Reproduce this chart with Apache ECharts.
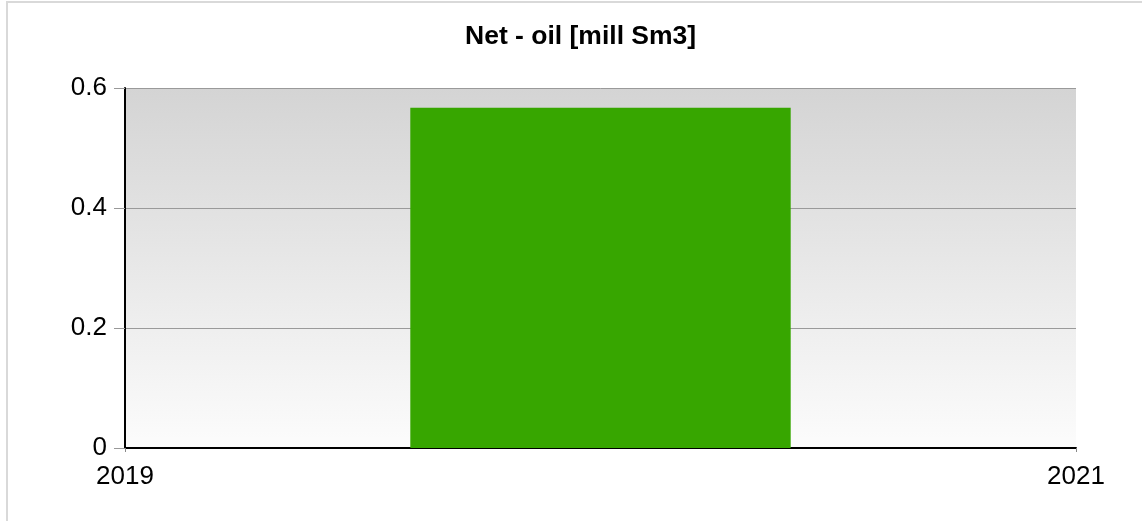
<!DOCTYPE html>
<html>
<head>
<meta charset="utf-8">
<script src="https://cdn.jsdelivr.net/npm/echarts@6/dist/echarts.min.js"></script>
<style>
  html, body { margin: 0; padding: 0; background: #fff; }
  #chart { width: 1142px; height: 521px; }
</style>
</head>
<body>
<div id="chart"></div>
<script>
// data
const years = [2020]
const netOil = [0.567]
const xTicks = [2019, 2021]
const yTicks = [0, 0.2, 0.4, 0.6]

const halfBar = 0.4 // bar half width in years

const chart = echarts.init(document.getElementById('chart'))

const option = {
  animation: false,
  title: {
    text: 'Net - oil [mill Sm3]',
    left: 460,
    top: 18,
    textStyle: {
      fontFamily: 'Liberation Sans',
      fontSize: 26.5,
      fontWeight: 'bold',
      color: '#000'
    }
  },
  graphic: [
    {
      type: 'polyline',
      shape: { points: [[7, 521], [7, 2], [1142, 2]] },
      style: { stroke: '#d9d9d9', lineWidth: 2, fill: null }
    }
  ],
  grid: {
    left: 125,
    right: 66,
    top: 88,
    bottom: 73,
    show: true,
    borderWidth: 0,
    backgroundColor: {
      type: 'linear', x: 0, y: 0, x2: 0, y2: 1,
      colorStops: [
        { offset: 0, color: '#d4d4d4' },
        { offset: 1, color: '#fcfcfc' }
      ]
    }
  },
  xAxis: {
    type: 'value',
    min: xTicks[0],
    max: xTicks[xTicks.length - 1],
    interval: xTicks[1] - xTicks[0],
    axisLine: { lineStyle: { color: '#000', width: 2 } },
    axisTick: { length: 4, lineStyle: { color: '#888' } },
    splitLine: { show: false },
    axisLabel: {
      margin: 16,
      color: '#000',
      fontFamily: 'Liberation Sans',
      fontSize: 26,
      formatter: v => String(v)
    }
  },
  yAxis: {
    type: 'value',
    min: yTicks[0],
    max: yTicks[yTicks.length - 1],
    interval: yTicks[1] - yTicks[0],
    axisLine: { show: true, lineStyle: { color: '#000', width: 2 } },
    axisTick: { show: true, length: 11, lineStyle: { color: '#999' } },
    splitLine: { lineStyle: { color: '#9a9a9a', width: 1 } },
    axisLabel: {
      margin: 18,
      color: '#000',
      fontFamily: 'Liberation Sans',
      fontSize: 26
    }
  },
  series: [
    {
      type: 'custom',
      data: years.map((y, i) => [y, netOil[i]]),
      renderItem: (params, api) => {
        const p0 = api.coord([api.value(0) - halfBar, api.value(1)])
        const p1 = api.coord([api.value(0) + halfBar, 0])
        return {
          type: 'rect',
          shape: { x: p0[0], y: p0[1], width: p1[0] - p0[0], height: p1[1] - p0[1] },
          style: { fill: '#37a600' }
        }
      }
    }
  ]
}

chart.setOption(option)
</script>
</body>
</html>
